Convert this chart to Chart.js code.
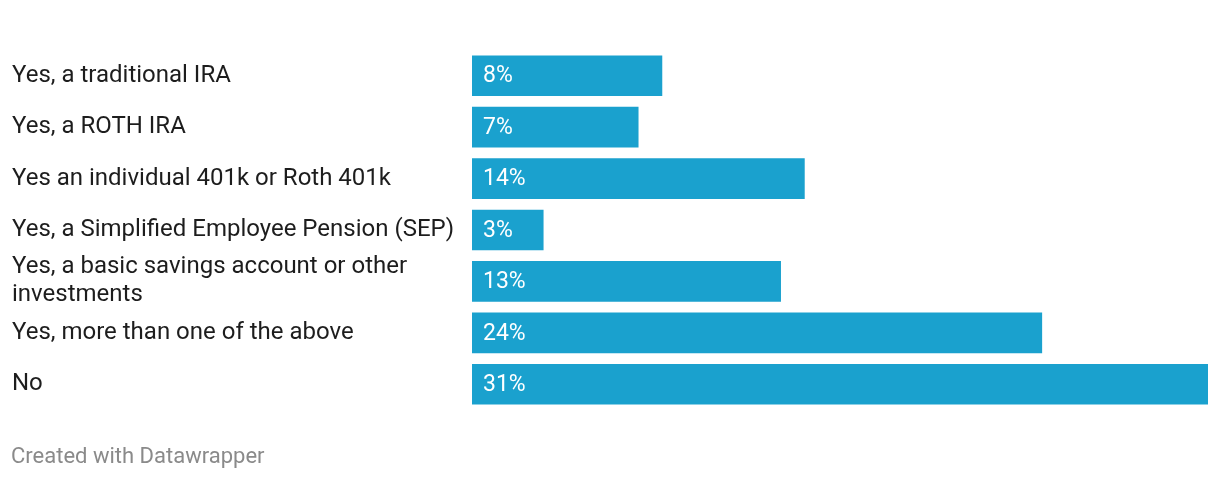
<!DOCTYPE html>
<html>
<head>
<meta charset="utf-8">
<script src="https://cdn.jsdelivr.net/npm/chart.js@4"></script>
<style>
  html, body { margin: 0; padding: 0; background: #fff; }
  #wrap { position: relative; width: 1220px; height: 480px; }
  #footer { position: absolute; left: 11px; top: 443px; font-family: Roboto, sans-serif; font-size: 22px; color: #8a8a8a; line-height: 26px; }
</style>
</head>
<body>
<div id="wrap">
  <canvas id="c" width="1220" height="480"></canvas>
  <div id="footer">Created with Datawrapper</div>
</div>
<script>
const categories = [
  "Yes, a traditional IRA",
  "Yes, a ROTH IRA",
  "Yes an individual 401k or Roth 401k",
  "Yes, a Simplified Employee Pension (SEP)",
  ["Yes, a basic savings account or other", "investments"],
  "Yes, more than one of the above",
  "No"
];
const values = [8, 7, 14, 3, 13, 24, 31];
const valueLabels = ["8%", "7%", "14%", "3%", "13%", "24%", "31%"];

const barColor = "#1aa1ce";

const valueLabelPlugin = {
  id: "valueLabels",
  afterDatasetsDraw(chart) {
    const ctx = chart.ctx;
    const meta = chart.getDatasetMeta(0);
    ctx.save();
    ctx.font = "23px Roboto, sans-serif";
    ctx.fillStyle = "#ffffff";
    ctx.textAlign = "left";
    ctx.textBaseline = "middle";
    meta.data.forEach((bar, i) => {
      ctx.fillText(valueLabels[i], bar.base + 11, bar.y + 1);
    });
    ctx.restore();
  }
};

new Chart(document.getElementById("c"), {
  type: "bar",
  data: {
    labels: categories,
    datasets: [{
      data: values,
      backgroundColor: barColor,
      borderWidth: 0,
      barThickness: 40
    }]
  },
  options: {
    indexAxis: "y",
    responsive: false,
    animation: false,
    devicePixelRatio: 1,
    layout: { padding: { left: 12, right: 12, top: 50, bottom: 70 } },
    plugins: { legend: { display: false }, tooltip: { enabled: false } },
    scales: {
      x: {
        display: false,
        min: 0,
        max: 31
      },
      y: {
        grid: { display: false },
        border: { display: false },
        afterFit(scale) { scale.width = 460; },
        ticks: {
          autoSkip: false,
          crossAlign: "far",
          color: "#1d1d1d",
          padding: 0,
          font: { family: "Roboto, sans-serif", size: 24, lineHeight: 1.17 }
        }
      }
    }
  },
  plugins: [valueLabelPlugin]
});
</script>
</body>
</html>
